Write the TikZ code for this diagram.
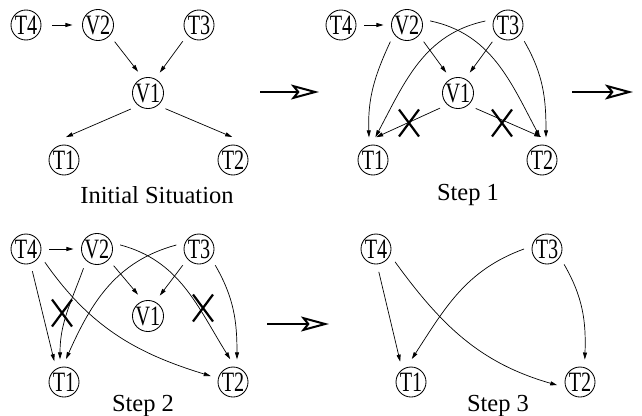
\documentclass[tikz,border=0pt]{standalone}
\usepackage{fontspec}
\setmainfont{Liberation Serif}
\usepackage{graphicx}
\usetikzlibrary{arrows.meta,shapes.misc}
\newcommand\vlab[1]{\scalebox{0.72}[1]{#1}}
\begin{document}
\begin{tikzpicture}[x=1pt,y=-1pt,
  vx/.style={circle,draw,line width=0.85pt,minimum size=30pt,inner sep=0pt,outer sep=8pt,font=\fontsize{28}{28}\selectfont},
  arr/.style={line width=0.7pt,-{Triangle[length=7pt,width=4pt]}},
  xmark/.style={cross out,draw,line width=2.2pt,minimum width=20pt,minimum height=27pt,inner sep=0pt,outer sep=0pt},
  big/.style={line width=2pt,-{Stealth[open,length=28pt,width=15pt,inset=6pt]}},
  captxt/.style={font=\fontsize{24.5}{24.5}\selectfont,anchor=base,inner sep=0pt}]
\useasboundingbox (0,0) rectangle (642,415);
% ---------- Initial situation
\node[vx] (a4) at (26,25) {\vlab{T4}};
\node[vx] (a2v) at (98,25) {\vlab{V2}};
\node[vx] (a3) at (199,25) {\vlab{T3}};
\node[vx] (a1v) at (148,93) {\vlab{V1}};
\node[vx] (a1) at (64,160) {\vlab{T1}};
\node[vx] (a2) at (233,160) {\vlab{T2}};
\draw[arr,shorten <=3pt,shorten >=2pt] (a4.east) -- (a2v.west);
\draw[arr] (a2v.-45) -- (a1v.115);
\draw[arr] (a3.225) -- (a1v.60);
\draw[arr] (a1v.223) -- (a1.85);
\draw[arr] (a1v.318) -- (a2.92);
\node[captxt] (l1) at (157,203) {Initial Situation};
\coordinate (g1s) at (260,92); \coordinate (g1e) at (319,92);
\draw[big] (g1s) -- (g1e);
% ---------- Step 1
\node[vx] (b4) at (341,25) {\vlab{T4}};
\node[vx] (b2v) at (407,25) {\vlab{V2}};
\node[vx] (b3) at (508,25) {\vlab{T3}};
\node[vx] (b1v) at (458,93) {\vlab{V1}};
\node[vx] (b1) at (373,160) {\vlab{T1}};
\node[vx] (b2) at (542,160) {\vlab{T2}};
\draw[arr] (b4.east) -- (b2v.west);
\draw[arr] (b2v.-45) -- (b1v.120);
\draw[arr] (b3.227) -- (b1v.60);
\draw[arr] (b1v.220) -- (b1.82);
\draw[arr] (b1v.319) -- (b2.92);
\draw[arr] (b2v.225) to[out=245,in=92] (b1.100);
\draw[arr] (b2v.10) to[out=-12,in=118] (b2.95);
\draw[arr] (b3.170) to[out=192,in=62] (b1.84);
\draw[arr] (b3.315) to[out=-60,in=90] (b2.80);
\node[xmark] (bx1) at (409,123) {};
\node[xmark] (bx2) at (502,123) {};
\node[captxt] (l2) at (468,200) {Step 1};
\coordinate (g2s) at (572,92); \coordinate (g2e) at (633,92);
\draw[big] (g2s) -- (g2e);
% ---------- Step 2
\node[vx] (c4) at (26,249) {\vlab{T4}};
\node[vx] (c2v) at (97,249) {\vlab{V2}};
\node[vx] (c3) at (199,249) {\vlab{T3}};
\node[vx] (c1v) at (148,316) {\vlab{V1}};
\node[vx] (c1) at (64,382) {\vlab{T1}};
\node[vx] (c2) at (233,382) {\vlab{T2}};
\draw[arr] (c4.east) -- (c2v.west);
\draw[arr] (c2v.-45) -- (c1v.115);
\draw[arr] (c3.225) -- (c1v.60);
\draw[arr] (c4.-74) -- (c1.115);
\draw[arr] (c4.-35) to[out=-55,in=163] (c2.165);
\draw[arr] (c2v.235) to[out=250,in=90] (c1.100);
\draw[arr] (c2v.10) to[out=-15,in=122] (c2.97);
\draw[arr] (c3.170) to[out=195,in=66] (c1.85);
\draw[arr] (c3.315) to[out=-60,in=90] (c2.80);
\node[xmark] (cx1) at (62,313) {};
\node[xmark] (cx2) at (203,308) {};
\node[captxt] (l3) at (143,411) {Step 2};
\coordinate (g3s) at (267,324); \coordinate (g3e) at (329,324);
\draw[big] (g3s) -- (g3e);
% ---------- Step 3
\node[vx] (d4) at (376,249) {\vlab{T4}};
\node[vx] (d3) at (547,249) {\vlab{T3}};
\node[vx] (d1) at (411,382) {\vlab{T1}};
\node[vx] (d2) at (580,382) {\vlab{T2}};
\draw[arr] (d4.-83) -- (d1.118);
\draw[arr] (d4.-34) to[out=-54,in=164] (d2.188);
\draw[arr] (d3.180) to[out=200,in=57] (d1.88);
\draw[arr] (d3.-42) to[out=-60,in=88] (d2.78);
\node[captxt] (l4) at (498,411) {Step 3};
\end{tikzpicture}
\end{document}
